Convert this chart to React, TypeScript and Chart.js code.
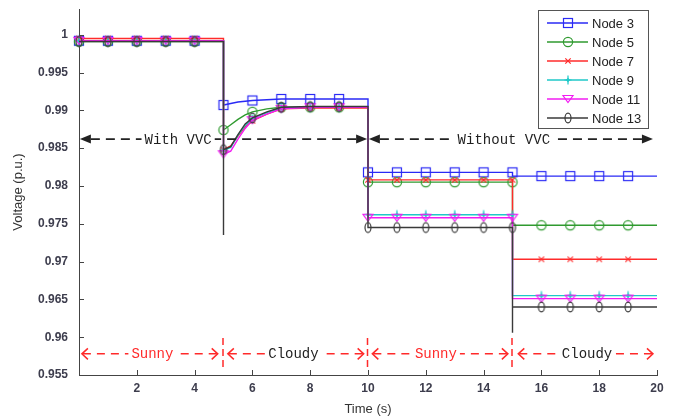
import React, { useEffect, useRef } from 'react';
import { Chart, registerables } from 'chart.js';

Chart.register(...registerables);

// ---------- data ----------
const times = [0, 1, 2, 3, 4, 5, 5, 5, 5.25, 5.5, 5.75, 6, 6.5, 7, 8, 9, 10, 10, 11, 12, 13, 14, 15, 15, 15, 16, 17, 18, 19, 20];
const markerFlags = [1, 1, 1, 1, 1, 0, 0, 1, 0, 0, 0, 1, 0, 1, 1, 1, 0, 1, 1, 1, 1, 1, 1, 0, 0, 1, 1, 1, 1, 0];

const node3 = [0.9992, 0.9992, 0.9992, 0.9992, 0.9992, 0.9992, 0.9992, 0.9907, 0.9909, 0.9911, 0.9912, 0.9913, 0.9914, 0.9915, 0.9915, 0.9915, 0.9915, 0.9818, 0.9818, 0.9818, 0.9818, 0.9818, 0.9818, 0.9813, 0.9813, 0.9813, 0.9813, 0.9813, 0.9813, 0.9813];
const node5 = [0.9991, 0.9991, 0.9991, 0.9991, 0.9991, 0.9991, 0.9991, 0.9874, 0.9881, 0.9888, 0.9894, 0.9898, 0.9902, 0.9904, 0.9904, 0.9904, 0.9904, 0.9805, 0.9805, 0.9805, 0.9805, 0.9805, 0.9805, 0.9748, 0.9748, 0.9748, 0.9748, 0.9748, 0.9748, 0.9748];
const node7 = [0.9995, 0.9995, 0.9995, 0.9995, 0.9995, 0.9995, 0.9995, 0.9848, 0.9853, 0.9866, 0.9878, 0.9886, 0.9895, 0.9902, 0.9903, 0.9903, 0.9903, 0.9808, 0.9808, 0.9808, 0.9808, 0.9808, 0.9808, 0.9703, 0.9703, 0.9703, 0.9703, 0.9703, 0.9703, 0.9703];
const node9 = [0.9992, 0.9992, 0.9992, 0.9992, 0.9992, 0.9992, 0.9992, 0.9847, 0.9851, 0.9867, 0.9880, 0.9889, 0.9897, 0.9903, 0.9904, 0.9904, 0.9904, 0.9762, 0.9762, 0.9762, 0.9762, 0.9762, 0.9762, 0.9655, 0.9655, 0.9655, 0.9655, 0.9655, 0.9655, 0.9655];
const node11 = [0.9992, 0.9992, 0.9992, 0.9992, 0.9992, 0.9992, 0.9992, 0.9842, 0.9846, 0.9862, 0.9876, 0.9887, 0.9895, 0.9902, 0.9904, 0.9904, 0.9904, 0.9758, 0.9758, 0.9758, 0.9758, 0.9758, 0.9758, 0.9651, 0.9651, 0.9651, 0.9651, 0.9651, 0.9651, 0.9651];
const node13 = [0.9991, 0.9991, 0.9991, 0.9991, 0.9991, 0.9991, 0.9735, 0.9848, 0.9852, 0.9868, 0.9882, 0.9890, 0.9898, 0.9904, 0.9905, 0.9905, 0.9905, 0.9745, 0.9745, 0.9745, 0.9745, 0.9745, 0.9745, 0.9606, 0.9640, 0.9640, 0.9640, 0.9640, 0.9640, 0.9640];

const seriesLabels = ['Node 3', 'Node 5', 'Node 7', 'Node 9', 'Node 11', 'Node 13'];
const seriesValues = [node3, node5, node7, node9, node11, node13];

const xTickValues = [2, 4, 6, 8, 10, 12, 14, 16, 18, 20];
const xTickLabels = ['2', '4', '6', '8', '10', '12', '14', '16', '18', '20'];
const yTickValues = [0.955, 0.96, 0.965, 0.97, 0.975, 0.98, 0.985, 0.99, 0.995, 1];
const yTickLabels = ['0.955', '0.96', '0.965', '0.97', '0.975', '0.98', '0.985', '0.99', '0.995', '1'];

const xTitle = 'Time (s)';
const yTitle = 'Voltage (p.u.)';

// annotation texts
const topNotes = [
  { text: 'With VVC', from: 0.03, to: 9.97, at: 3.43 },
  { text: 'Without VVC', from: 10.03, to: 19.86, at: 14.7 },
];
const bottomNotes = [
  { text: 'Sunny', from: 0.1, to: 4.8, at: 2.54, red: true },
  { text: 'Cloudy', from: 5.15, to: 9.85, at: 7.42, red: false },
  { text: 'Sunny', from: 10.15, to: 14.84, at: 12.35, red: true },
  { text: 'Cloudy', from: 15.2, to: 19.86, at: 17.58, red: false },
];
const weatherSplits = [5, 10, 15];

// ---------- styles ----------
const colors = ['#2a2af5', '#2f9a2f', '#ff2b2b', '#1fc8c8', '#f21cf2', '#3a3a3a'];
const markerKinds = ['square', 'circle', 'x', 'star', 'tri', 'ellipse'];
const SANS = "'Liberation Sans', Arial, sans-serif";
const MONO = "'Liberation Mono', 'Courier New', monospace";

function makeMarker(kind: string, color: string): HTMLCanvasElement {
  const c = document.createElement('canvas');
  c.width = 16;
  c.height = 16;
  const g = c.getContext('2d')!;
  g.strokeStyle = color;
  g.fillStyle = color;
  g.lineWidth = 1.2;
  g.beginPath();
  switch (kind) {
    case 'square':
      g.strokeRect(3.5, 3.5, 9, 9);
      break;
    case 'circle':
      g.arc(8, 8, 4.6, 0, Math.PI * 2);
      g.stroke();
      break;
    case 'x':
      g.moveTo(5.3, 5.3); g.lineTo(10.7, 10.7);
      g.moveTo(10.7, 5.3); g.lineTo(5.3, 10.7);
      g.stroke();
      break;
    case 'star':
      g.moveTo(8, 3.5); g.lineTo(8, 12.5);
      g.moveTo(4.5, 8); g.lineTo(11.5, 8);
      g.stroke();
      g.beginPath();
      g.moveTo(8, 5.5); g.lineTo(10, 8); g.lineTo(8, 10.5); g.lineTo(6, 8); g.closePath();
      g.fill();
      break;
    case 'tri':
      g.moveTo(3, 4.5); g.lineTo(13, 4.5); g.lineTo(8, 11.5); g.closePath();
      g.stroke();
      break;
    case 'ellipse':
      g.ellipse(8, 8, 3, 4.8, 0, 0, Math.PI * 2);
      g.stroke();
      break;
  }
  return c;
}

function filledHead(ctx: CanvasRenderingContext2D, tipX: number, yy: number, dir: number) {
  ctx.beginPath();
  ctx.moveTo(tipX, yy);
  ctx.lineTo(tipX - dir * 11, yy - 4.5);
  ctx.lineTo(tipX - dir * 11, yy + 4.5);
  ctx.closePath();
  ctx.fill();
}

function openHead(ctx: CanvasRenderingContext2D, tipX: number, yy: number, dir: number) {
  ctx.beginPath();
  ctx.moveTo(tipX - dir * 6, yy - 5.5);
  ctx.lineTo(tipX, yy);
  ctx.lineTo(tipX - dir * 6, yy + 5.5);
  ctx.stroke();
}

export default function App() {
  const ref = useRef<HTMLCanvasElement>(null);

  useEffect(() => {
    if (!ref.current) return;
    const markers = markerKinds.map((k, i) => makeMarker(k, colors[i]));

    const datasets = seriesValues.map((vals, i) => ({
      label: seriesLabels[i],
      data: vals.map((v, j) => ({ x: times[j], y: v })),
      borderColor: colors[i],
      backgroundColor: colors[i],
      borderWidth: 1.4,
      tension: 0,
      fill: false,
      clip: false as any,
      order: seriesValues.length - i,
      pointStyle: markers[i],
      pointRadius: (c: any) => (markerFlags[c.dataIndex] ? 5 : 0),
    }));

    const overlay = {
      id: 'overlay',
      afterDraw(chart: any) {
        const { ctx, chartArea: a, scales } = chart;
        const x = scales.x;
        const y = scales.y;
        ctx.save();

        // inward ticks
        ctx.strokeStyle = '#444';
        ctx.lineWidth = 1;
        ctx.setLineDash([]);
        ctx.beginPath();
        xTickValues.forEach((v) => {
          const px = Math.round(x.getPixelForValue(v)) + 0.5;
          ctx.moveTo(px, a.bottom);
          ctx.lineTo(px, a.bottom - 5);
        });
        yTickValues.forEach((v) => {
          const py = Math.round(y.getPixelForValue(v)) + 0.5;
          ctx.moveTo(a.left, py);
          ctx.lineTo(a.left + 5, py);
        });
        ctx.stroke();

        // top annotations (With / Without VVC)
        const yTop = y.getPixelForValue(0.9862);
        ctx.font = `14px ${MONO}`;
        ctx.textBaseline = 'middle';
        ctx.textAlign = 'center';
        topNotes.forEach((n) => {
          const x1 = x.getPixelForValue(n.from);
          const x2 = x.getPixelForValue(n.to);
          const cx = x.getPixelForValue(n.at);
          const w = ctx.measureText(n.text).width;
          ctx.strokeStyle = '#222';
          ctx.fillStyle = '#222';
          ctx.lineWidth = 1.7;
          ctx.setLineDash([9, 6]);
          ctx.beginPath();
          ctx.moveTo(x1 + 11, yTop);
          ctx.lineTo(cx - w / 2 - 3, yTop);
          ctx.moveTo(x2 - 11, yTop);
          ctx.lineTo(cx + w / 2 + 3, yTop);
          ctx.stroke();
          ctx.setLineDash([]);
          filledHead(ctx, x1, yTop, -1);
          filledHead(ctx, x2, yTop, 1);
          ctx.fillStyle = '#1e1e1e';
          ctx.fillText(n.text, cx, yTop + 1);
        });

        // bottom annotations (Sunny / Cloudy)
        const yBot = y.getPixelForValue(0.9578);
        bottomNotes.forEach((n) => {
          const x1 = x.getPixelForValue(n.from);
          const x2 = x.getPixelForValue(n.to);
          const cx = x.getPixelForValue(n.at);
          ctx.font = `14px ${MONO}`;
          const w = ctx.measureText(n.text).width;
          ctx.strokeStyle = '#ff2a2a';
          ctx.lineWidth = 1.5;
          ctx.setLineDash([8, 6]);
          ctx.beginPath();
          ctx.moveTo(x1 + 1, yBot);
          ctx.lineTo(cx - w / 2 - 3, yBot);
          ctx.moveTo(x2 - 1, yBot);
          ctx.lineTo(cx + w / 2 + 3, yBot);
          ctx.stroke();
          ctx.setLineDash([]);
          openHead(ctx, x1, yBot, -1);
          openHead(ctx, x2, yBot, 1);
          ctx.fillStyle = n.red ? '#ff2a2a' : '#222';
          ctx.fillText(n.text, cx, yBot);
        });
        ctx.strokeStyle = '#ff2a2a';
        ctx.lineWidth = 1.5;
        ctx.setLineDash([7, 4]);
        ctx.beginPath();
        weatherSplits.forEach((t) => {
          const px = x.getPixelForValue(t) - 0.5;
          ctx.moveTo(px, y.getPixelForValue(0.9599));
          ctx.lineTo(px, y.getPixelForValue(0.9556));
        });
        ctx.stroke();
        ctx.setLineDash([]);

        // axis titles
        ctx.fillStyle = '#333';
        ctx.font = `13px ${SANS}`;
        ctx.textAlign = 'center';
        ctx.textBaseline = 'middle';
        ctx.fillText(xTitle, (a.left + a.right) / 2, 409);
        ctx.save();
        ctx.translate(18, (a.top + a.bottom) / 2);
        ctx.rotate(-Math.PI / 2);
        ctx.fillText(yTitle, 0, 0);
        ctx.restore();

        // legend
        const lx = a.right - 119;
        const ly = 10;
        const lw = 110;
        const lh = 118;
        ctx.fillStyle = '#fff';
        ctx.fillRect(lx, ly, lw, lh);
        ctx.strokeStyle = '#555';
        ctx.lineWidth = 1;
        ctx.strokeRect(lx + 0.5, ly + 0.5, lw, lh);
        ctx.font = `13px ${SANS}`;
        ctx.textAlign = 'left';
        ctx.textBaseline = 'middle';
        seriesLabels.forEach((lab, i) => {
          const cy = ly + 13 + i * 19;
          ctx.strokeStyle = colors[i];
          ctx.lineWidth = 1.3;
          ctx.beginPath();
          ctx.moveTo(lx + 9, cy);
          ctx.lineTo(lx + 50, cy);
          ctx.stroke();
          ctx.drawImage(markers[i], lx + 30 - 8, cy - 8);
          ctx.fillStyle = '#222';
          ctx.fillText(lab, lx + 54, cy + 1);
        });

        ctx.restore();
      },
    };

    const chart = new Chart(ref.current, {
      type: 'line',
      data: { datasets: datasets as any },
      options: {
        animation: false,
        responsive: true,
        maintainAspectRatio: false,
        events: [],
        layout: { padding: { top: 9, right: 21, left: 0, bottom: 0 } },
        plugins: { legend: { display: false }, tooltip: { enabled: false } },
        scales: {
          x: {
            type: 'linear',
            min: 0,
            max: 20,
            afterBuildTicks: (s: any) => {
              s.ticks = xTickValues.map((v) => ({ value: v }));
            },
            afterFit: (s: any) => {
              s.height = 45;
              s.paddingLeft = 0;
              s.paddingRight = 0;
            },
            ticks: {
              autoSkip: false,
              maxRotation: 0,
              padding: 6,
              color: '#3d3d4d',
              font: { family: SANS, size: 12, weight: 'bold' },
              callback: (_v: any, i: number) => xTickLabels[i],
            },
            grid: { display: false, drawTicks: false },
            border: { display: true, color: '#444', width: 1 },
          },
          y: {
            type: 'linear',
            min: 0.955,
            max: 1.0034,
            afterBuildTicks: (s: any) => {
              s.ticks = yTickValues.map((v) => ({ value: v }));
            },
            afterFit: (s: any) => {
              s.width = 79;
              s.paddingTop = 0;
              s.paddingBottom = 0;
            },
            ticks: {
              autoSkip: false,
              padding: 11,
              color: '#3d3d4d',
              font: { family: SANS, size: 12, weight: 'bold' },
              callback: (_v: any, i: number) => yTickLabels[i],
            },
            grid: { display: false, drawTicks: false },
            border: { display: true, color: '#444', width: 1 },
          },
        },
      } as any,
      plugins: [overlay],
    });

    return () => chart.destroy();
  }, []);

  return (
    <div style={{ position: 'absolute', left: 0, top: 0, width: 678, height: 420, background: '#fff' }}>
      <canvas ref={ref} />
    </div>
  );
}
